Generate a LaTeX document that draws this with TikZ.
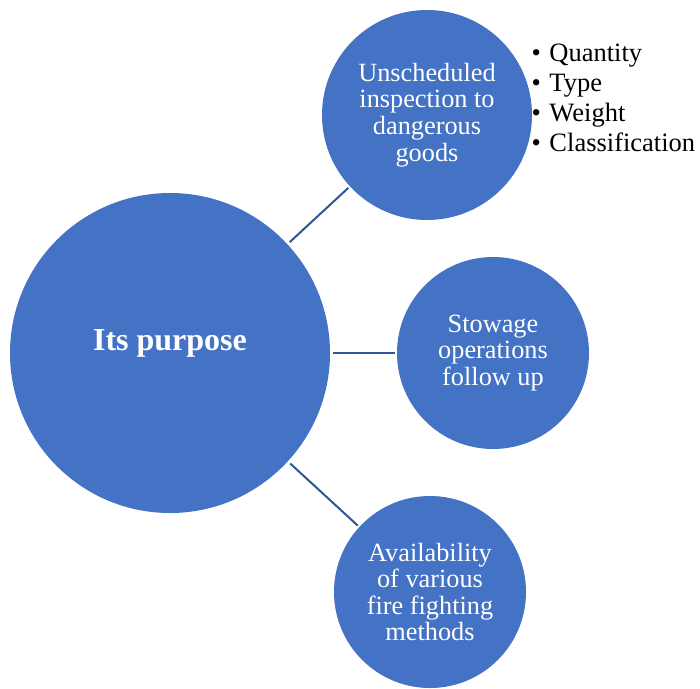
\documentclass[tikz,border=0pt]{standalone}
\usepackage{fontspec}
\setmainfont{Liberation Serif}
\usepackage{xcolor}
\definecolor{smartblue}{HTML}{4472C4}
\definecolor{smartline}{HTML}{2F5597}

\begin{document}
\begin{tikzpicture}[
    x=1pt, y=-1pt,
    bubble/.style={circle, fill=smartblue, text=white, inner sep=0pt, align=center, font=\fontsize{26.3}{26.6}\selectfont},
    hub/.style={bubble, minimum size=320pt, font=\fontsize{32}{32}\selectfont\bfseries, text height=21pt, text depth=27pt},
    link/.style={draw=smartline, line width=2pt, shorten <=3pt, shorten >=2pt},
    bullets/.style={anchor=north west, inner sep=0pt, align=left, font=\fontsize{26.5}{30}\selectfont}
]
  \useasboundingbox (0,0) rectangle (700,688);

  % Centre
  \node[hub] (purpose) at (170,353) {Its purpose};

  % Satellites
  \node[bubble, minimum size=210pt] (inspect) at (427,115) {Unscheduled\\inspection to\\dangerous\\goods};
  \node[bubble, minimum size=192pt] (stowage) at (493,353) {Stowage\\operations\\follow up};
  \node[bubble, minimum size=192pt] (firefight) at (430,592) {Availability\\of various\\fire fighting\\methods};

  % Bullet list
  \node[bullets] (details) at (531.5,44) {\textbullet\hspace{8.5pt}Quantity\\\textbullet\hspace{8.5pt}Type\\\textbullet\hspace{8.5pt}Weight\\\textbullet\hspace{8.5pt}Classification};

  % Links
  \draw[link] (purpose) -- (inspect);
  \draw[link] (purpose) -- (stowage);
  \draw[link] (purpose) -- (firefight);
\end{tikzpicture}
\end{document}
